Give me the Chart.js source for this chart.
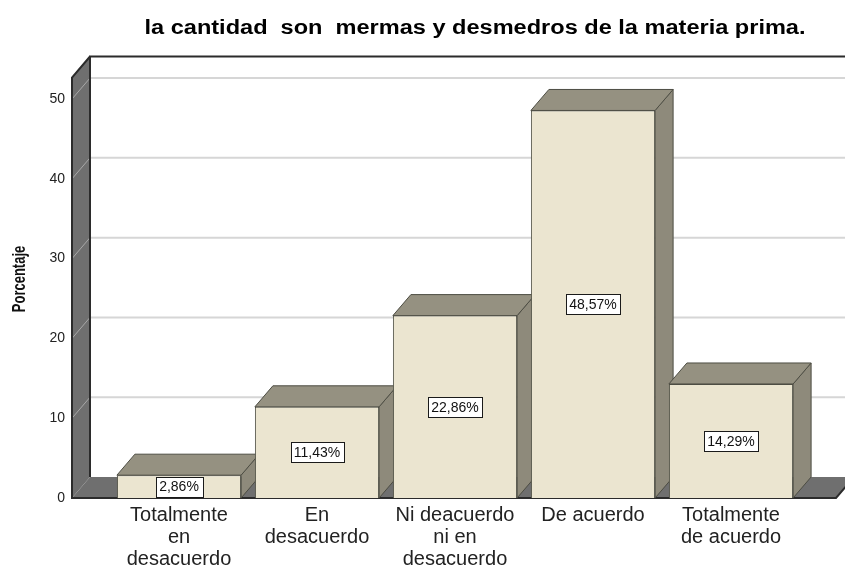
<!DOCTYPE html>
<html>
<head>
<meta charset="utf-8">
<script src="https://cdn.jsdelivr.net/npm/chart.js@4"></script>
<style>
  html, body { margin: 0; padding: 0; background: #fff; }
  #wrap { width: 845px; height: 568px; position: relative; }
</style>
</head>
<body>
<div id="wrap"><canvas id="grafico"></canvas></div>
<script>
// Datos del gráfico
const titulo = 'la cantidad  son  mermas y desmedros de la materia prima.';
const tituloY = 'Porcentaje';
const categorias = [
    ['Totalmente', 'en', 'desacuerdo'],
    ['En', 'desacuerdo'],
    ['Ni deacuerdo', 'ni en', 'desacuerdo'],
    'De acuerdo',
    ['Totalmente', 'de acuerdo']
];
const porcentajes = [2.86, 11.43, 22.86, 48.57, 14.29];
const ticksY = [0, 10, 20, 30, 40, 50];

const FUENTE = '"Liberation Sans", Arial, sans-serif';
const DX = 18, DY = -21; // profundidad 3D

// Paredes, piso y rejilla de fondo
const fondo3d = {
    id: 'fondo3d',
    beforeDatasetsDraw(chart) {
        const ctx = chart.ctx;
        const area = chart.chartArea;
        const y = chart.scales.y;
        const x0 = 72, xf = 836;
        const top = area.top, bot = area.bottom;
        ctx.save();
        // pared izquierda
        ctx.fillStyle = '#6f6f6f';
        ctx.beginPath();
        ctx.moveTo(x0, bot); ctx.lineTo(x0, top);
        ctx.lineTo(x0 + DX, top + DY); ctx.lineTo(x0 + DX, bot + DY);
        ctx.closePath(); ctx.fill();
        // piso
        ctx.beginPath();
        ctx.moveTo(x0, bot); ctx.lineTo(xf, bot);
        ctx.lineTo(xf + DX, bot + DY); ctx.lineTo(x0 + DX, bot + DY);
        ctx.closePath(); ctx.fill();
        // rejilla
        ticksY.forEach(v => {
            if (v === 0) return;
            const py = y.getPixelForValue(v);
            ctx.strokeStyle = '#d6d6d6';
            ctx.lineWidth = 2;
            ctx.beginPath();
            ctx.moveTo(x0 + DX, py + DY); ctx.lineTo(chart.width, py + DY);
            ctx.stroke();
            ctx.strokeStyle = '#a8a8a8';
            ctx.lineWidth = 1;
            ctx.beginPath();
            ctx.moveTo(x0, py); ctx.lineTo(x0 + DX, py + DY);
            ctx.stroke();
        });
        // bordes
        ctx.strokeStyle = '#2b2b2b';
        ctx.lineWidth = 2;
        ctx.beginPath();
        ctx.moveTo(chart.width, top + DY); ctx.lineTo(x0 + DX, top + DY);
        ctx.lineTo(x0 + DX, bot + DY);
        ctx.stroke();
        ctx.beginPath();
        ctx.moveTo(x0 + DX, top + DY); ctx.lineTo(x0, top);
        ctx.lineTo(x0, bot); ctx.lineTo(xf, bot); ctx.lineTo(xf + DX, bot + DY);
        ctx.stroke();

        // caras superior y lateral de las barras
        const meta = chart.getDatasetMeta(0);
        meta.data.forEach(b => {
            const l = b.x - b.width / 2, r = b.x + b.width / 2;
            const t = b.y, s = b.base;
            ctx.lineWidth = 1;
            ctx.strokeStyle = '#4d4d43';
            ctx.fillStyle = '#8e8a7b';
            ctx.beginPath();
            ctx.moveTo(r, t); ctx.lineTo(r + DX, t + DY);
            ctx.lineTo(r + DX, s + DY); ctx.lineTo(r, s);
            ctx.closePath(); ctx.fill(); ctx.stroke();
            ctx.fillStyle = '#959181';
            ctx.beginPath();
            ctx.moveTo(l, t); ctx.lineTo(r, t);
            ctx.lineTo(r + DX, t + DY); ctx.lineTo(l + DX, t + DY);
            ctx.closePath(); ctx.fill(); ctx.stroke();
        });
        ctx.restore();
    },
    afterDatasetsDraw(chart) {
        const ctx = chart.ctx;
        const meta = chart.getDatasetMeta(0);
        ctx.save();
        ctx.font = '14px ' + FUENTE;
        ctx.textAlign = 'center';
        ctx.textBaseline = 'middle';
        meta.data.forEach((b, i) => {
            const txt = porcentajes[i].toFixed(2).replace('.', ',') + '%';
            const w = Math.round(ctx.measureText(txt).width + 7);
            const h = 20;
            const cy = (b.y + b.base) / 2;
            const bx = Math.round(b.x - w / 2) + 0.5, by = Math.round(cy - h / 2) + 0.5;
            ctx.fillStyle = '#fff';
            ctx.fillRect(bx, by, w, h);
            ctx.strokeStyle = '#1a1a1a';
            ctx.lineWidth = 1;
            ctx.strokeRect(bx, by, w, h);
            ctx.fillStyle = '#111';
            ctx.fillText(txt, b.x, cy + 1);
        });
        // título (estirado en horizontal como el original)
        ctx.font = 'bold 20px ' + FUENTE;
        ctx.fillStyle = '#000';
        const sx = 661 / ctx.measureText(titulo).width;
        ctx.save();
        ctx.translate(475, 28);
        ctx.scale(sx, 1);
        ctx.fillText(titulo, 0, 0);
        ctx.restore();
        // título del eje Y
        ctx.save();
        ctx.font = 'bold 13px ' + FUENTE;
        ctx.fillStyle = '#111';
        ctx.translate(20, 279);
        ctx.rotate(-Math.PI / 2);
        ctx.scale(1, 1.45);
        ctx.fillText(tituloY, 0, 0);
        ctx.restore();
        ctx.restore();
    }
};

const ctx = document.getElementById('grafico').getContext('2d');

const chart = new Chart(ctx, {
    type: 'bar',
    data: {
        labels: categorias,
        datasets: [{
            label: 'Porcentaje',
            data: porcentajes,
            backgroundColor: '#ebe5d0',
            borderColor: '#4d4d43',
            borderWidth: 1,
            categoryPercentage: 0.9,
            barPercentage: 1.0
        }]
    },
    options: {
        responsive: true,
        maintainAspectRatio: false,
        animation: false,
        layout: { padding: { top: 77.5, right: 45, left: 0, bottom: 0 } },
        plugins: {
            legend: { display: false },
            tooltip: { enabled: false }
        },
        scales: {
            x: {
                grid: { display: false, drawTicks: false },
                border: { display: false },
                ticks: {
                    color: '#222',
                    font: { family: FUENTE, size: 20, lineHeight: 1.08 },
                    padding: 7,
                    maxRotation: 0,
                    autoSkip: false
                },
                afterFit(scale) { scale.height = 70; }
            },
            y: {
                min: 0,
                max: 52.7,
                grid: { display: false, drawTicks: false },
                border: { display: false },
                ticks: {
                    stepSize: 10,
                    includeBounds: false,
                    color: '#222',
                    padding: 45,
                    font: { family: FUENTE, size: 14 }
                },
                afterFit(scale) { scale.width = 110; }
            }
        }
    },
    plugins: [fondo3d]
});
</script>
</body>
</html>
